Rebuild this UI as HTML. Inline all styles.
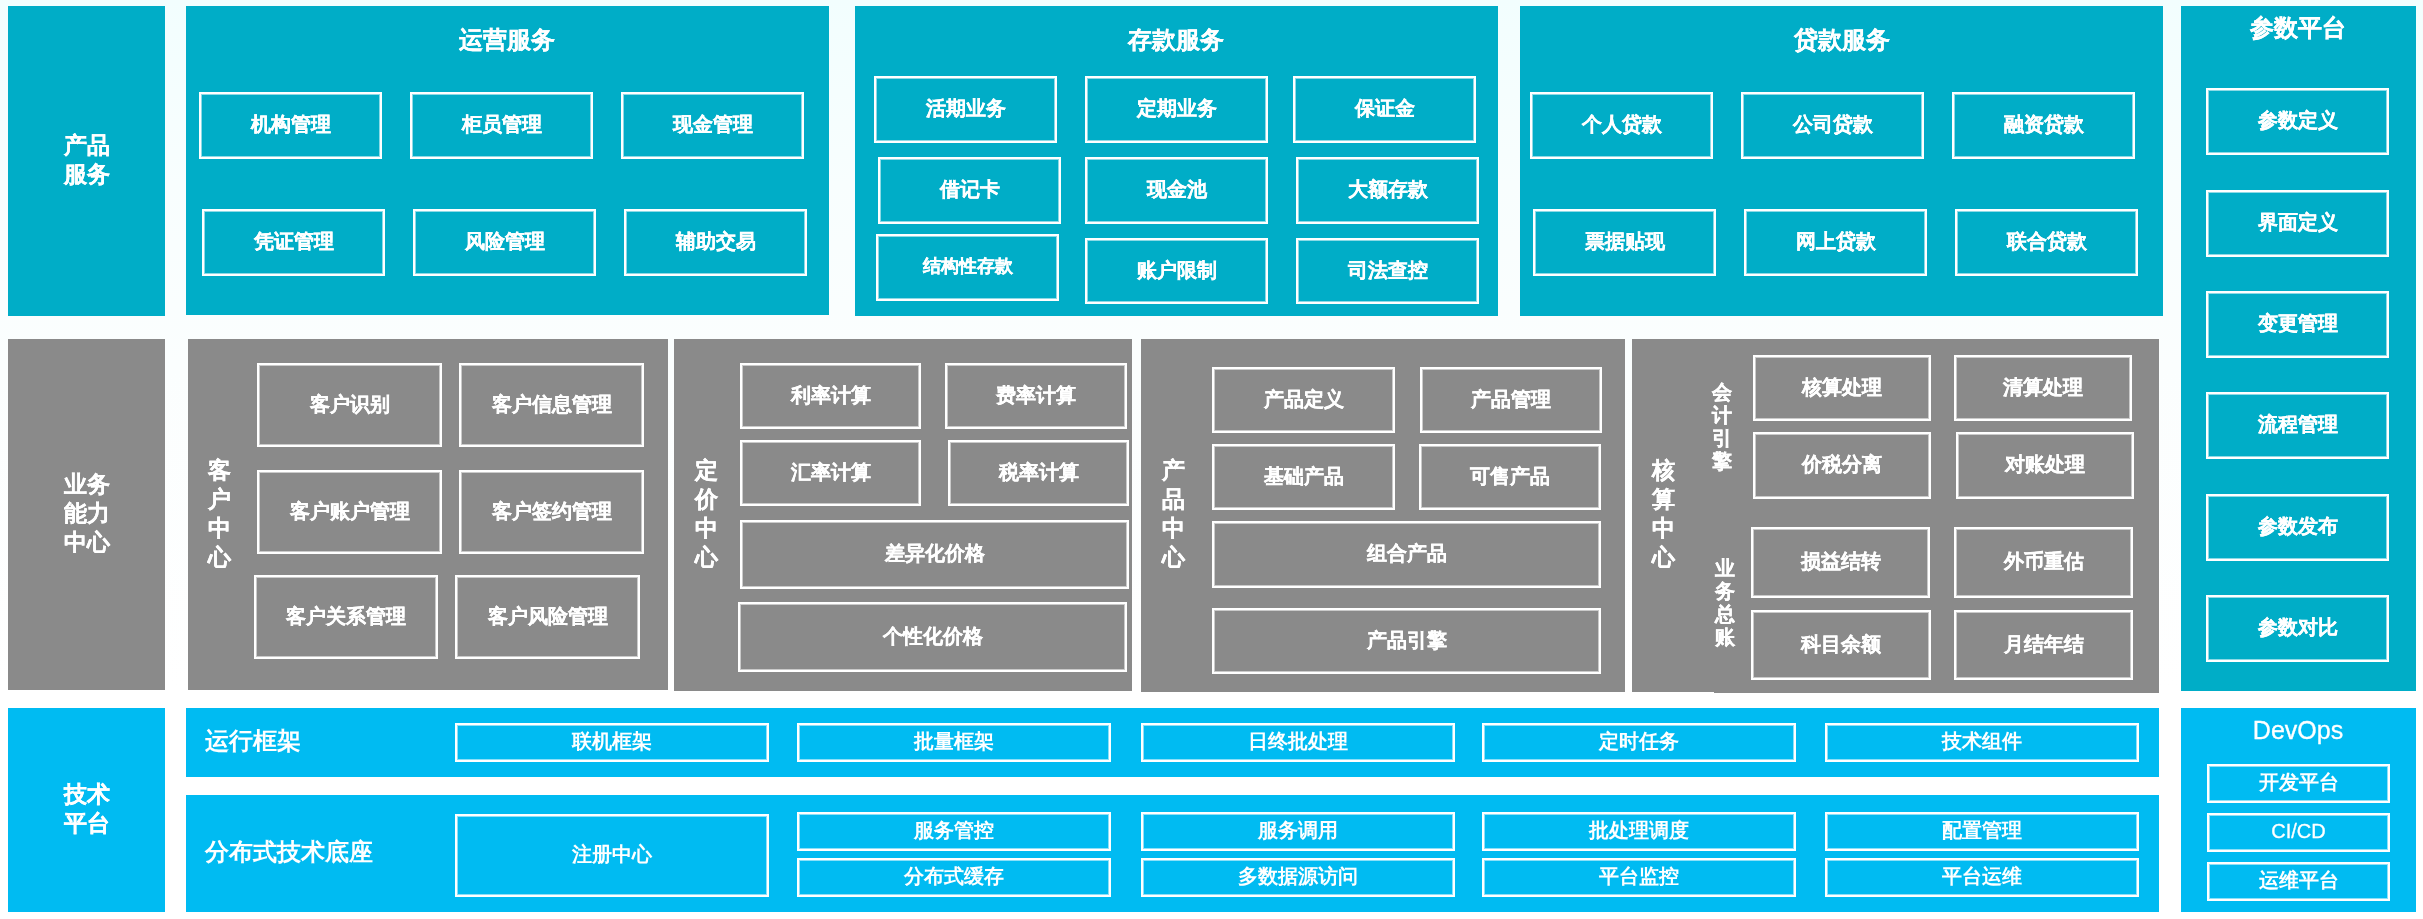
<!DOCTYPE html>
<html><head><meta charset="utf-8"><style>
html,body{margin:0;padding:0;}
body{width:2423px;height:919px;background:linear-gradient(to bottom,#f2fefe 0%,#f8fefe 20%,#fbfefe 40%,#ffffff 75%);position:relative;overflow:hidden;font-family:"Liberation Sans",sans-serif;color:#fff;}
.p{position:absolute;}
.b{position:absolute;box-sizing:border-box;border:2px solid #fff;box-shadow:inset 0 0 0 1px rgba(255,255,255,0.55);text-align:center;font-weight:bold;white-space:nowrap;will-change:transform;-webkit-text-stroke:0.25px #fff;}
.t{position:absolute;text-align:center;font-weight:bold;white-space:nowrap;will-change:transform;-webkit-text-stroke:0.2px #fff;}
.sl{-webkit-text-stroke:0.2px #fff;}
.s{-webkit-text-stroke:0;}
.lat{font-weight:normal;-webkit-text-stroke:0.3px #fff;}
.v{font-weight:bold;-webkit-text-stroke:0.25px #fff;}
</style></head><body>
<div class="p" style="left:8px;top:6px;width:157px;height:310px;background:#00adc7"></div>
<div class="p" style="left:186px;top:6px;width:643px;height:309px;background:#00adc7"></div>
<div class="p" style="left:855px;top:6px;width:643px;height:310px;background:#00adc7"></div>
<div class="p" style="left:1520px;top:6px;width:643px;height:310px;background:#00adc7"></div>
<div class="p" style="left:2181px;top:6px;width:235px;height:685px;background:#00adc7"></div>
<div class="p" style="left:8px;top:339px;width:157px;height:351px;background:#8a8a8a"></div>
<div class="p" style="left:188px;top:339px;width:480px;height:351px;background:#8a8a8a"></div>
<div class="p" style="left:674px;top:339px;width:458px;height:352px;background:#8a8a8a"></div>
<div class="p" style="left:1141px;top:339px;width:484px;height:353px;background:#8a8a8a"></div>
<div class="p" style="left:1632px;top:339px;width:527px;height:353px;background:#8a8a8a"></div>
<div class="p" style="left:1714px;top:339px;width:445px;height:354px;background:#8a8a8a"></div>
<div class="p" style="left:8px;top:708px;width:157px;height:204px;background:#00bbf2"></div>
<div class="p" style="left:186px;top:708px;width:1973px;height:69px;background:#00bbf2"></div>
<div class="p" style="left:186px;top:795px;width:1973px;height:117px;background:#00bbf2"></div>
<div class="p" style="left:2181px;top:708px;width:235px;height:204px;background:#00bbf2"></div>
<div class="b" style="left:199px;top:92px;width:183px;height:67px;font-size:20px;line-height:63px"><span style="position:relative;top:-1px">机构管理</span></div>
<div class="b" style="left:410px;top:92px;width:183px;height:67px;font-size:20px;line-height:63px"><span style="position:relative;top:-1px">柜员管理</span></div>
<div class="b" style="left:621px;top:92px;width:183px;height:67px;font-size:20px;line-height:63px"><span style="position:relative;top:-1px">现金管理</span></div>
<div class="b" style="left:202px;top:209px;width:183px;height:67px;font-size:20px;line-height:63px"><span style="position:relative;top:-1px">凭证管理</span></div>
<div class="b" style="left:413px;top:209px;width:183px;height:67px;font-size:20px;line-height:63px"><span style="position:relative;top:-1px">风险管理</span></div>
<div class="b" style="left:624px;top:209px;width:183px;height:67px;font-size:20px;line-height:63px"><span style="position:relative;top:-1px">辅助交易</span></div>
<div class="b" style="left:874px;top:76px;width:183px;height:67px;font-size:20px;line-height:63px"><span style="position:relative;top:-1px">活期业务</span></div>
<div class="b" style="left:1085px;top:76px;width:183px;height:67px;font-size:20px;line-height:63px"><span style="position:relative;top:-1px">定期业务</span></div>
<div class="b" style="left:1293px;top:76px;width:183px;height:67px;font-size:20px;line-height:63px"><span style="position:relative;top:-1px">保证金</span></div>
<div class="b" style="left:878px;top:157px;width:183px;height:67px;font-size:20px;line-height:63px"><span style="position:relative;top:-1px">借记卡</span></div>
<div class="b" style="left:1085px;top:157px;width:183px;height:67px;font-size:20px;line-height:63px"><span style="position:relative;top:-1px">现金池</span></div>
<div class="b" style="left:1296px;top:157px;width:183px;height:67px;font-size:20px;line-height:63px"><span style="position:relative;top:-1px">大额存款</span></div>
<div class="b" style="left:876px;top:234px;width:183px;height:67px;font-size:18px;line-height:63px"><span style="position:relative;top:-1px">结构性存款</span></div>
<div class="b" style="left:1085px;top:238px;width:183px;height:66px;font-size:20px;line-height:62px"><span style="position:relative;top:-1px">账户限制</span></div>
<div class="b" style="left:1296px;top:238px;width:183px;height:66px;font-size:20px;line-height:62px"><span style="position:relative;top:-1px">司法查控</span></div>
<div class="b" style="left:1530px;top:92px;width:183px;height:67px;font-size:20px;line-height:63px"><span style="position:relative;top:-1px">个人贷款</span></div>
<div class="b" style="left:1741px;top:92px;width:183px;height:67px;font-size:20px;line-height:63px"><span style="position:relative;top:-1px">公司贷款</span></div>
<div class="b" style="left:1952px;top:92px;width:183px;height:67px;font-size:20px;line-height:63px"><span style="position:relative;top:-1px">融资贷款</span></div>
<div class="b" style="left:1533px;top:209px;width:183px;height:67px;font-size:20px;line-height:63px"><span style="position:relative;top:-1px">票据贴现</span></div>
<div class="b" style="left:1744px;top:209px;width:183px;height:67px;font-size:20px;line-height:63px"><span style="position:relative;top:-1px">网上贷款</span></div>
<div class="b" style="left:1955px;top:209px;width:183px;height:67px;font-size:20px;line-height:63px"><span style="position:relative;top:-1px">联合贷款</span></div>
<div class="b" style="left:2206px;top:88px;width:183px;height:67px;font-size:20px;line-height:63px"><span style="position:relative;top:-1px">参数定义</span></div>
<div class="b" style="left:2206px;top:190px;width:183px;height:67px;font-size:20px;line-height:63px"><span style="position:relative;top:-1px">界面定义</span></div>
<div class="b" style="left:2206px;top:291px;width:183px;height:67px;font-size:20px;line-height:63px"><span style="position:relative;top:-1px">变更管理</span></div>
<div class="b" style="left:2206px;top:392px;width:183px;height:67px;font-size:20px;line-height:63px"><span style="position:relative;top:-1px">流程管理</span></div>
<div class="b" style="left:2206px;top:494px;width:183px;height:67px;font-size:20px;line-height:63px"><span style="position:relative;top:-1px">参数发布</span></div>
<div class="b" style="left:2206px;top:595px;width:183px;height:67px;font-size:20px;line-height:63px"><span style="position:relative;top:-1px">参数对比</span></div>
<div class="b m" style="left:257px;top:363px;width:185px;height:84px;font-size:20px;line-height:80px"><span style="position:relative;top:-1px">客户识别</span></div>
<div class="b m" style="left:459px;top:363px;width:185px;height:84px;font-size:20px;line-height:80px"><span style="position:relative;top:-1px">客户信息管理</span></div>
<div class="b m" style="left:257px;top:470px;width:185px;height:84px;font-size:20px;line-height:80px"><span style="position:relative;top:-1px">客户账户管理</span></div>
<div class="b m" style="left:459px;top:470px;width:185px;height:84px;font-size:20px;line-height:80px"><span style="position:relative;top:-1px">客户签约管理</span></div>
<div class="b m" style="left:254px;top:575px;width:184px;height:84px;font-size:20px;line-height:80px"><span style="position:relative;top:-1px">客户关系管理</span></div>
<div class="b m" style="left:455px;top:575px;width:185px;height:84px;font-size:20px;line-height:80px"><span style="position:relative;top:-1px">客户风险管理</span></div>
<div class="b m" style="left:740px;top:363px;width:181px;height:66px;font-size:20px;line-height:62px"><span style="position:relative;top:-1px">利率计算</span></div>
<div class="b m" style="left:945px;top:363px;width:182px;height:66px;font-size:20px;line-height:62px"><span style="position:relative;top:-1px">费率计算</span></div>
<div class="b m" style="left:740px;top:440px;width:181px;height:66px;font-size:20px;line-height:62px"><span style="position:relative;top:-1px">汇率计算</span></div>
<div class="b m" style="left:948px;top:440px;width:181px;height:66px;font-size:20px;line-height:62px"><span style="position:relative;top:-1px">税率计算</span></div>
<div class="b m" style="left:740px;top:520px;width:389px;height:69px;font-size:20px;line-height:65px"><span style="position:relative;top:-1px">差异化价格</span></div>
<div class="b m" style="left:738px;top:602px;width:389px;height:70px;font-size:20px;line-height:66px"><span style="position:relative;top:-1px">个性化价格</span></div>
<div class="b m" style="left:1212px;top:367px;width:183px;height:66px;font-size:20px;line-height:62px"><span style="position:relative;top:-1px">产品定义</span></div>
<div class="b m" style="left:1420px;top:367px;width:182px;height:66px;font-size:20px;line-height:62px"><span style="position:relative;top:-1px">产品管理</span></div>
<div class="b m" style="left:1212px;top:444px;width:183px;height:66px;font-size:20px;line-height:62px"><span style="position:relative;top:-1px">基础产品</span></div>
<div class="b m" style="left:1419px;top:444px;width:182px;height:66px;font-size:20px;line-height:62px"><span style="position:relative;top:-1px">可售产品</span></div>
<div class="b m" style="left:1212px;top:521px;width:389px;height:67px;font-size:20px;line-height:63px"><span style="position:relative;top:-1px">组合产品</span></div>
<div class="b m" style="left:1212px;top:608px;width:389px;height:66px;font-size:20px;line-height:62px"><span style="position:relative;top:-1px">产品引擎</span></div>
<div class="b m" style="left:1753px;top:355px;width:178px;height:66px;font-size:20px;line-height:62px"><span style="position:relative;top:-1px">核算处理</span></div>
<div class="b m" style="left:1954px;top:355px;width:178px;height:66px;font-size:20px;line-height:62px"><span style="position:relative;top:-1px">清算处理</span></div>
<div class="b m" style="left:1753px;top:432px;width:178px;height:67px;font-size:20px;line-height:63px"><span style="position:relative;top:-1px">价税分离</span></div>
<div class="b m" style="left:1956px;top:432px;width:178px;height:67px;font-size:20px;line-height:63px"><span style="position:relative;top:-1px">对账处理</span></div>
<div class="b m" style="left:1751px;top:527px;width:179px;height:71px;font-size:20px;line-height:67px"><span style="position:relative;top:-1px">损益结转</span></div>
<div class="b m" style="left:1954px;top:527px;width:179px;height:71px;font-size:20px;line-height:67px"><span style="position:relative;top:-1px">外币重估</span></div>
<div class="b m" style="left:1751px;top:610px;width:180px;height:70px;font-size:20px;line-height:66px"><span style="position:relative;top:-1px">科目余额</span></div>
<div class="b m" style="left:1954px;top:610px;width:179px;height:70px;font-size:20px;line-height:66px"><span style="position:relative;top:-1px">月结年结</span></div>
<div class="b s" style="left:455px;top:723px;width:314px;height:39px;font-size:20px;line-height:35px"><span style="position:relative;top:-1px">联机框架</span></div>
<div class="b s" style="left:797px;top:723px;width:314px;height:39px;font-size:20px;line-height:35px"><span style="position:relative;top:-1px">批量框架</span></div>
<div class="b s" style="left:1141px;top:723px;width:314px;height:39px;font-size:20px;line-height:35px"><span style="position:relative;top:-1px">日终批处理</span></div>
<div class="b s" style="left:1482px;top:723px;width:314px;height:39px;font-size:20px;line-height:35px"><span style="position:relative;top:-1px">定时任务</span></div>
<div class="b s" style="left:1825px;top:723px;width:314px;height:39px;font-size:20px;line-height:35px"><span style="position:relative;top:-1px">技术组件</span></div>
<div class="b s" style="left:455px;top:814px;width:314px;height:83px;font-size:20px;line-height:79px"><span style="position:relative;top:-1px">注册中心</span></div>
<div class="b s" style="left:797px;top:812px;width:314px;height:39px;font-size:20px;line-height:35px"><span style="position:relative;top:-1px">服务管控</span></div>
<div class="b s" style="left:797px;top:858px;width:314px;height:39px;font-size:20px;line-height:35px"><span style="position:relative;top:-1px">分布式缓存</span></div>
<div class="b s" style="left:1141px;top:812px;width:314px;height:39px;font-size:20px;line-height:35px"><span style="position:relative;top:-1px">服务调用</span></div>
<div class="b s" style="left:1141px;top:858px;width:314px;height:39px;font-size:20px;line-height:35px"><span style="position:relative;top:-1px">多数据源访问</span></div>
<div class="b s" style="left:1482px;top:812px;width:314px;height:39px;font-size:20px;line-height:35px"><span style="position:relative;top:-1px">批处理调度</span></div>
<div class="b s" style="left:1482px;top:858px;width:314px;height:39px;font-size:20px;line-height:35px"><span style="position:relative;top:-1px">平台监控</span></div>
<div class="b s" style="left:1825px;top:812px;width:314px;height:39px;font-size:20px;line-height:35px"><span style="position:relative;top:-1px">配置管理</span></div>
<div class="b s" style="left:1825px;top:858px;width:314px;height:39px;font-size:20px;line-height:35px"><span style="position:relative;top:-1px">平台运维</span></div>
<div class="b s" style="left:2207px;top:764px;width:183px;height:39px;font-size:20px;line-height:35px"><span style="position:relative;top:-1px">开发平台</span></div>
<div class="b s lat" style="left:2207px;top:813px;width:183px;height:39px;font-size:20px;line-height:35px"><span style="position:relative;top:-1px">CI/CD</span></div>
<div class="b s" style="left:2207px;top:862px;width:183px;height:39px;font-size:20px;line-height:35px"><span style="position:relative;top:-1px">运维平台</span></div>
<div class="t" style="left:357.0px;top:28px;width:300px;font-size:24px;line-height:24px;">运营服务</div>
<div class="t" style="left:1026.0px;top:28px;width:300px;font-size:24px;line-height:24px;">存款服务</div>
<div class="t" style="left:1692.0px;top:28px;width:300px;font-size:24px;line-height:24px;">贷款服务</div>
<div class="t" style="left:2148.0px;top:16px;width:300px;font-size:24px;line-height:24px;">参数平台</div>
<div class="t lat" style="left:2148.0px;top:718px;width:300px;font-size:25px;line-height:25px;">DevOps</div>
<div class="t sl" style="left:-63.5px;top:131px;width:300px;font-size:23px;line-height:29px;">产品<br>服务</div>
<div class="t sl" style="left:-63.5px;top:470px;width:300px;font-size:23px;line-height:29px;">业务<br>能力<br>中心</div>
<div class="t sl" style="left:-63.5px;top:780px;width:300px;font-size:23px;line-height:29px;">技术<br>平台</div>
<div class="t v" style="left:199.0px;top:456px;width:40px;font-size:23px;line-height:29px;">客<br>户<br>中<br>心</div>
<div class="t v" style="left:686.0px;top:456px;width:40px;font-size:23px;line-height:29px;">定<br>价<br>中<br>心</div>
<div class="t v" style="left:1152.5px;top:456px;width:40px;font-size:23px;line-height:29px;">产<br>品<br>中<br>心</div>
<div class="t v" style="left:1643.0px;top:456px;width:40px;font-size:23px;line-height:29px;">核<br>算<br>中<br>心</div>
<div class="t v" style="left:1702.0px;top:381px;width:40px;font-size:20px;line-height:23px;">会<br>计<br>引<br>擎</div>
<div class="t v" style="left:1704.5px;top:557px;width:40px;font-size:20px;line-height:23px;">业<br>务<br>总<br>账</div>
<div class="t s" style="left:205px;top:729px;font-size:24px;line-height:24px;text-align:left">运行框架</div>
<div class="t s" style="left:205px;top:840px;font-size:24px;line-height:24px;text-align:left">分布式技术底座</div>
</body></html>
